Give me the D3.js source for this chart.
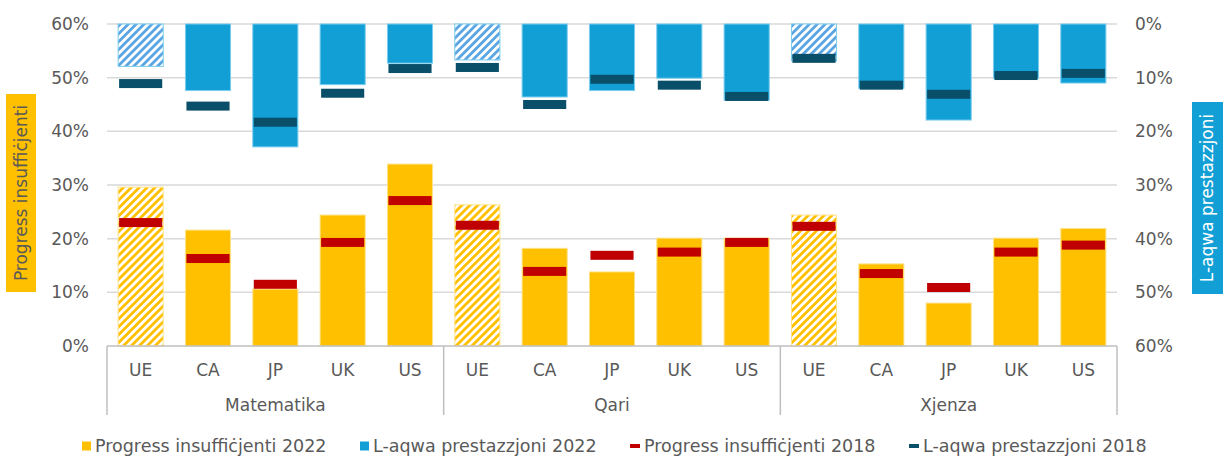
<!DOCTYPE html>
<html>
<head>
<meta charset="utf-8">
<script src="https://cdn.jsdelivr.net/npm/d3@7"></script>
<style>
  body { margin: 0; background: #fff; }
  text { font-family: "DejaVu Sans", Verdana, sans-serif; fill: #595959; }
</style>
</head>
<body>
<script>
// subjects and countries along the x axis
var subjects = ["Matematika", "Qari", "Xjenza"];
var countries = ["UE", "CA", "JP", "UK", "US"];

// % shares, in order Matematika UE..US, Qari UE..US, Xjenza UE..US
var low2022 = [29.6, 21.6, 10.6, 24.4, 33.9, 26.3, 18.2, 13.8, 20.1, 20.1, 24.4, 15.3, 8.0, 20.1, 21.9];
var low2018 = [23.0, 16.3, 11.5, 19.3, 27.1, 22.5, 13.9, 16.9, 17.5, 19.3, 22.3, 13.5, 10.9, 17.5, 18.8];
var top2022 = [7.9, 12.4, 22.9, 11.3, 7.3, 6.7, 13.6, 12.4, 10.1, 14.2, 6.9, 12.0, 17.9, 10.1, 11.0];
var top2018 = [11.1, 15.3, 18.3, 12.9, 8.3, 8.1, 15.0, 10.3, 11.4, 13.5, 6.4, 11.4, 13.1, 9.6, 9.2];

var tickValues = [0, 10, 20, 30, 40, 50, 60];
var legendLabels = ["Progress insuffiċjenti 2022", "L-aqwa prestazzjoni 2022",
                    "Progress insuffiċjenti 2018", "L-aqwa prestazzjoni 2018"];

var yellow = "#FFC000", blue = "#119FD6", red = "#C00000", dark = "#0A4F6A";

var W = 1225, H = 456;
// plot box (named so they don't clash with window.top)
var plotL = 107, plotR = 1117, plotT = 24, plotB = 346;

var svg = d3.select("body").append("svg")
  .attr("width", W).attr("height", H);

// hatch patterns for the EU bars
var defs = svg.append("defs");
function hatch(id, color) {
  var p = defs.append("pattern").attr("id", id)
    .attr("patternUnits", "userSpaceOnUse")
    .attr("width", 5.6).attr("height", 5.6)
    .attr("patternTransform", "rotate(45)");
  p.append("rect").attr("width", 5.6).attr("height", 5.6).attr("fill", "#fff");
  p.append("rect").attr("width", 2.8).attr("height", 5.6).attr("fill", color);
}
hatch("hY", yellow);
hatch("hB", "#5AA5E2");

var keys = [];
subjects.forEach(function (s) {
  countries.forEach(function (c) { keys.push(s + "|" + c); });
});

var x = d3.scaleBand().domain(keys).range([plotL, plotR])
  .paddingInner(0.33).paddingOuter(0.165);
var yL = d3.scaleLinear().domain([0, 60]).range([plotB, plotT]);
var yR = d3.scaleLinear().domain([0, 60]).range([plotT, plotB]);

// gridlines
svg.append("g").selectAll("line").data(tickValues.slice(1)).enter()
  .append("line")
  .attr("x1", plotL).attr("x2", plotR)
  .attr("y1", function (d) { return yL(d); })
  .attr("y2", function (d) { return yL(d); })
  .attr("stroke", "#d9d9d9").attr("stroke-width", 1.5);

// left axis
svg.append("g").attr("transform", "translate(" + (plotL - 18) + ",0)")
  .call(d3.axisLeft(yL).tickValues(tickValues).tickSize(0).tickPadding(0)
    .tickFormat(function (d) { return d + "%"; }))
  .call(function (g) { g.select(".domain").remove(); })
  .selectAll("text").style("font-size", "17px").attr("fill", "#595959");

// right axis
svg.append("g").attr("transform", "translate(" + (plotR + 18) + ",0)")
  .call(d3.axisRight(yR).tickValues(tickValues).tickSize(0).tickPadding(0)
    .tickFormat(function (d) { return d + "%"; }))
  .call(function (g) { g.select(".domain").remove(); })
  .selectAll("text").style("font-size", "17px").attr("fill", "#595959");

// bottom bars (progress insufficjenti 2022)
svg.append("g").selectAll("rect").data(keys).enter().append("rect")
  .attr("x", function (d) { return x(d); })
  .attr("width", x.bandwidth())
  .attr("y", function (d, i) { return yL(low2022[i]); })
  .attr("height", function (d, i) { return yL(0) - yL(low2022[i]); })
  .attr("fill", function (d, i) { return i % 5 === 0 ? "url(#hY)" : yellow; })
  .attr("stroke", "#FFE28A").attr("stroke-width", 1);

// top bars (l-aqwa prestazzjoni 2022)
svg.append("g").selectAll("rect").data(keys).enter().append("rect")
  .attr("x", function (d) { return x(d); })
  .attr("width", x.bandwidth())
  .attr("y", yR(0))
  .attr("height", function (d, i) { return yR(top2022[i]) - yR(0); })
  .attr("fill", function (d, i) { return i % 5 === 0 ? "url(#hB)" : blue; })
  .attr("stroke", "#7CCDEE").attr("stroke-width", 1);

// 2018 markers
var mh = 9;
svg.append("g").selectAll("rect").data(keys).enter().append("rect")
  .attr("x", function (d) { return x(d) + 1; })
  .attr("width", x.bandwidth() - 2)
  .attr("y", function (d, i) { return yL(low2018[i]) - mh / 2; })
  .attr("height", mh).attr("fill", red);
svg.append("g").selectAll("rect").data(keys).enter().append("rect")
  .attr("x", function (d) { return x(d) + 1; })
  .attr("width", x.bandwidth() - 2)
  .attr("y", function (d, i) { return yR(top2018[i]) - mh / 2; })
  .attr("height", mh).attr("fill", dark);

// baseline and category separators
svg.append("line").attr("x1", plotL).attr("x2", plotR)
  .attr("y1", plotB).attr("y2", plotB)
  .attr("stroke", "#bfbfbf").attr("stroke-width", 1.5);
var sepX = [plotL].concat(subjects.map(function (s) {
  return x(s + "|US") + x.bandwidth() + x.step() * x.paddingOuter();
}));
svg.append("g").selectAll("line").data(sepX).enter().append("line")
  .attr("x1", function (d) { return d; }).attr("x2", function (d) { return d; })
  .attr("y1", plotB).attr("y2", 415)
  .attr("stroke", "#bfbfbf").attr("stroke-width", 1.5);

// country labels
svg.append("g").selectAll("text").data(keys).enter().append("text")
  .attr("x", function (d) { return x(d) + x.bandwidth() / 2; })
  .attr("y", 376).attr("text-anchor", "middle")
  .style("font-size", "17px")
  .text(function (d) { return d.split("|")[1]; });

// subject labels
svg.append("g").selectAll("text").data(subjects).enter().append("text")
  .attr("x", function (d) {
    return (x(d + "|UE") + x(d + "|US") + x.bandwidth()) / 2;
  })
  .attr("y", 411).attr("text-anchor", "middle")
  .style("font-size", "17px")
  .text(function (d) { return d; });

// axis titles in coloured boxes
svg.append("rect").attr("x", 6).attr("y", 94).attr("width", 30).attr("height", 198)
  .attr("fill", yellow);
svg.append("text")
  .attr("transform", "translate(27,193) rotate(-90)")
  .attr("text-anchor", "middle").style("font-size", "17px")
  .attr("fill", "#595959")
  .text("Progress insuffiċjenti");
svg.append("rect").attr("x", 1192).attr("y", 102).attr("width", 31).attr("height", 192)
  .attr("fill", blue);
svg.append("text")
  .attr("transform", "translate(1213,198) rotate(-90)")
  .attr("text-anchor", "middle").style("font-size", "17px")
  .style("fill", "#fff")
  .text("L-aqwa prestazzjoni");

// legend
var legX = [82, 360, 630, 909];
var legColors = [yellow, blue, red, dark];
var leg = svg.append("g").selectAll("g").data(legendLabels).enter().append("g")
  .attr("transform", function (d, i) { return "translate(" + legX[i] + ",446)"; });
leg.append("rect")
  .attr("x", 0)
  .attr("y", function (d, i) { return i < 2 ? -4.5 : -2; })
  .attr("width", function (d, i) { return i < 2 ? 9 : 10; })
  .attr("height", function (d, i) { return i < 2 ? 9 : 4; })
  .attr("fill", function (d, i) { return legColors[i]; });
leg.append("text")
  .attr("x", function (d, i) { return i < 2 ? 13 : 14; })
  .attr("y", 6).style("font-size", "17.5px")
  .text(function (d) { return d; });
</script>
</body>
</html>
